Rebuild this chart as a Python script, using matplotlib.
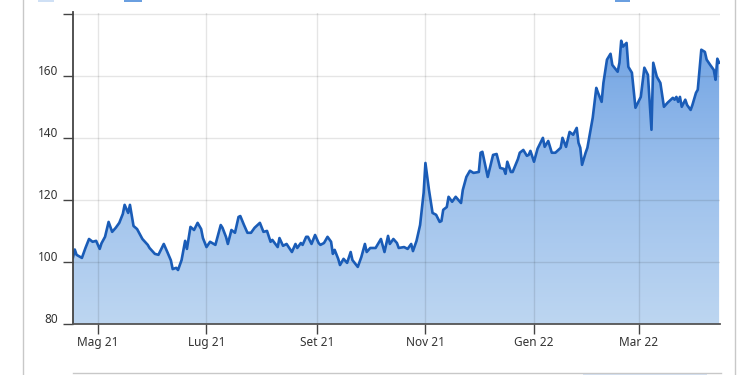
import matplotlib
matplotlib.use('Agg')
import matplotlib.pyplot as plt
import matplotlib.dates as mdates
from matplotlib.transforms import ScaledTranslation
from matplotlib.colors import LinearSegmentedColormap
from matplotlib.patches import Rectangle
from matplotlib.lines import Line2D
import numpy as np
import pandas as pd

# ---------------- data ----------------
dates = [
    '2021-04-17', '2021-04-18', '2021-04-19', '2021-04-22', '2021-04-24', '2021-04-26', '2021-04-28', '2021-04-30',
    '2021-05-02', '2021-05-03', '2021-05-05', '2021-05-07', '2021-05-09', '2021-05-11', '2021-05-13', '2021-05-15',
    '2021-05-16', '2021-05-18', '2021-05-19', '2021-05-21', '2021-05-23', '2021-05-26', '2021-05-29', '2021-05-30',
    '2021-06-02', '2021-06-04', '2021-06-07', '2021-06-09', '2021-06-11', '2021-06-12', '2021-06-14', '2021-06-15',
    '2021-06-17', '2021-06-19', '2021-06-20', '2021-06-22', '2021-06-24', '2021-06-26', '2021-06-28', '2021-06-29',
    '2021-07-01', '2021-07-03', '2021-07-06', '2021-07-09', '2021-07-10', '2021-07-12', '2021-07-13', '2021-07-15',
    '2021-07-17', '2021-07-19', '2021-07-20', '2021-07-22', '2021-07-24', '2021-07-26', '2021-07-28', '2021-07-31',
    '2021-08-02', '2021-08-04', '2021-08-06', '2021-08-07', '2021-08-10', '2021-08-11', '2021-08-13', '2021-08-15',
    '2021-08-18', '2021-08-20', '2021-08-21', '2021-08-23', '2021-08-24', '2021-08-26', '2021-08-27', '2021-08-29',
    '2021-08-31', '2021-09-02', '2021-09-03', '2021-09-05', '2021-09-07', '2021-09-09', '2021-09-10', '2021-09-11',
    '2021-09-13', '2021-09-14', '2021-09-16', '2021-09-18', '2021-09-20', '2021-09-21', '2021-09-24', '2021-09-26',
    '2021-09-28', '2021-09-29', '2021-10-01', '2021-10-04', '2021-10-07', '2021-10-09', '2021-10-11', '2021-10-12',
    '2021-10-14', '2021-10-16', '2021-10-17', '2021-10-20', '2021-10-22', '2021-10-24', '2021-10-25', '2021-10-27',
    '2021-10-29', '2021-10-31', '2021-11-01', '2021-11-03', '2021-11-05', '2021-11-07', '2021-11-09', '2021-11-10',
    '2021-11-11', '2021-11-13', '2021-11-14', '2021-11-16', '2021-11-18', '2021-11-21', '2021-11-22', '2021-11-24',
    '2021-11-26', '2021-11-28', '2021-12-01', '2021-12-02', '2021-12-03', '2021-12-06', '2021-12-09', '2021-12-11',
    '2021-12-13', '2021-12-15', '2021-12-16', '2021-12-17', '2021-12-19', '2021-12-20', '2021-12-23', '2021-12-24',
    '2021-12-26', '2021-12-28', '2021-12-29', '2021-12-30', '2022-01-01', '2022-01-03', '2022-01-06', '2022-01-07',
    '2022-01-09', '2022-01-11', '2022-01-13', '2022-01-16', '2022-01-17', '2022-01-19', '2022-01-21', '2022-01-23',
    '2022-01-25', '2022-01-26', '2022-01-27', '2022-01-28', '2022-01-30', '2022-01-31', '2022-02-03', '2022-02-05',
    '2022-02-06', '2022-02-08', '2022-02-09', '2022-02-11', '2022-02-13', '2022-02-14', '2022-02-17', '2022-02-18',
    '2022-02-19', '2022-02-20', '2022-02-22', '2022-02-23', '2022-02-25', '2022-02-27', '2022-03-02', '2022-03-04',
    '2022-03-06', '2022-03-08', '2022-03-09', '2022-03-11', '2022-03-13', '2022-03-15', '2022-03-17', '2022-03-20',
    '2022-03-21', '2022-03-22', '2022-03-23', '2022-03-24', '2022-03-25', '2022-03-27', '2022-03-28', '2022-03-30',
    '2022-03-31', '2022-04-02', '2022-04-03', '2022-04-05', '2022-04-07', '2022-04-08', '2022-04-10', '2022-04-12',
    '2022-04-13', '2022-04-14', '2022-04-15',
]
values = [
    101.5, 104.0, 102.3, 101.3, 104.5, 107.4, 106.5, 106.8,
    104.2, 106.0, 108.1, 112.9, 109.7, 111.0, 112.6, 115.5,
    118.4, 115.8, 118.4, 111.6, 110.6, 107.4, 105.5, 104.5,
    102.6, 102.3, 105.8, 103.2, 100.5, 97.7, 98.1, 97.4,
    100.6, 106.8, 104.2, 111.3, 110.3, 112.6, 110.6, 107.7,
    104.8, 106.5, 105.5, 111.9, 111.0, 108.0, 105.8, 110.3,
    109.4, 114.5, 114.8, 112.0, 109.4, 109.4, 111.0, 112.6,
    109.7, 110.0, 106.5, 107.1, 104.8, 107.7, 105.2, 105.8,
    103.2, 105.8, 104.5, 106.1, 105.5, 108.1, 108.1, 105.8,
    108.7, 106.1, 105.5, 106.1, 108.1, 106.5, 102.6, 103.9,
    101.0, 99.0, 101.0, 99.7, 103.2, 100.6, 98.4, 101.6,
    105.8, 103.2, 104.5, 104.5, 107.4, 103.2, 108.4, 105.8,
    107.4, 106.1, 104.5, 104.8, 104.2, 105.8, 103.5, 106.8,
    111.9, 122.3, 131.9, 123.2, 115.8, 115.2, 112.9, 113.2,
    116.8, 117.7, 121.0, 119.4, 121.0, 119.0, 123.2, 127.4,
    129.4, 128.7, 129.0, 135.2, 135.5, 127.4, 134.5, 134.8,
    130.3, 130.0, 128.4, 132.3, 129.0, 129.0, 133.2, 135.2,
    136.1, 134.2, 134.5, 135.8, 132.3, 136.5, 140.0, 137.1,
    139.0, 135.2, 135.2, 136.8, 140.0, 137.1, 141.9, 141.0,
    143.2, 138.4, 136.8, 131.3, 135.2, 136.8, 146.5, 156.1,
    154.5, 151.6, 157.7, 165.2, 167.1, 163.5, 161.3, 164.2,
    171.3, 169.4, 170.6, 162.9, 161.0, 149.7, 153.2, 162.6,
    160.3, 142.6, 164.2, 159.7, 157.7, 150.0, 151.3, 152.9,
    152.3, 153.2, 151.6, 153.2, 150.0, 152.3, 150.6, 149.0,
    150.6, 154.5, 155.5, 168.4, 167.7, 165.2, 163.5, 161.9,
    158.7, 165.5, 164.2,
]
y_ticks = [80, 100, 120, 140, 160, 180]
y_tick_labels = ['80', '100', '120', '140', '160', '']
x_tick_dates = ['2021-05-01', '2021-07-01', '2021-09-01', '2021-11-01', '2022-01-01', '2022-03-01']
x_tick_labels = ['Mag 21', 'Lug 21', 'Set 21', 'Nov 21', 'Gen 22', 'Mar 22']
x_range = ['2021-04-17T00:00', '2022-04-15T12:00']
y_range = [80, 180.4]

# ---------------- figure ----------------
plt.rcParams['font.family'] = ['Noto Sans', 'DejaVu Sans']
W, H = 750, 375
fig = plt.figure(figsize=(W / 100, H / 100), dpi=100)
ax = fig.add_axes([73 / W, 1 - 324 / H, (720 - 73) / W, (324 - 12.5) / H])

xd = mdates.date2num(pd.to_datetime(dates))
yv = np.array(values)
x0, x1 = mdates.date2num(pd.to_datetime(x_range, format='ISO8601'))

# gradient area fill
cmap = LinearSegmentedColormap.from_list('g', ['#bdd6f1', '#9cc0ec', '#6fa2e3'])
poly = ax.fill_between(xd, yv, y_range[0], facecolor='none', edgecolor='none', zorder=1)
grad = np.linspace(0, 1, 256).reshape(-1, 1)
im = ax.imshow(grad, extent=[x0, x1, y_range[0], 175], origin='lower', aspect='auto',
               cmap=cmap, zorder=1, interpolation='bicubic')
im.set_clip_path(poly.get_paths()[0], transform=ax.transData)

ax.plot(xd, yv, color='#1a5cb7', lw=1.9, zorder=3, solid_joinstyle='round')

ax.set_xlim(x0, x1)
ax.set_ylim(*y_range)

# ticks & grid
ax.set_yticks(y_ticks)
ax.set_yticklabels(y_tick_labels)
ax.set_xticks(mdates.date2num(pd.to_datetime(x_tick_dates)))
ax.set_xticklabels(x_tick_labels)

ax.tick_params(axis='y', direction='out', length=7.2, width=1.0, color='#444444',
               labelsize=8.5, labelcolor='#333333', pad=3.6)
ax.tick_params(axis='x', direction='out', length=7.2, width=1.0, color='#444444',
               labelsize=8.5, labelcolor='#333333', pad=1.5)
ax.grid(True, lw=1.0)
ax.tick_params(axis='both', which='major', grid_color='#000000', grid_alpha=0.1,
               grid_linewidth=1.0)
ax.set_axisbelow(False)
for gl in ax.get_xgridlines() + ax.get_ygridlines():
    gl.set_zorder(2)

off = ScaledTranslation(0, 6 / 100, fig.dpi_scale_trans)
for lab in ax.get_yticklabels():
    lab.set_transform(lab.get_transform() + off)

for s in ['top', 'right']:
    ax.spines[s].set_visible(False)
ax.spines['left'].set_color('#444444')
ax.spines['left'].set_linewidth(1.3)
ax.spines['bottom'].set_color('#555555')
ax.spines['bottom'].set_linewidth(1.3)
ax.spines['left'].set_zorder(4)
ax.spines['bottom'].set_zorder(4)

# surrounding frame decorations
def px(x, y):
    return x / W, 1 - y / H

for xx in (22.5, 735):
    fig.add_artist(Line2D([xx / W, xx / W], [0, 1], color='#c8c8c8', lw=1.0))
# navigator strip at the bottom (cut off)
fig.add_artist(Line2D([73 / W, 721 / W], [1 - 373 / H, 1 - 373 / H], color='#c8c8c8', lw=1.0))
fig.add_artist(Rectangle(px(583, 375), 124 / W, 2 / H, facecolor='#d5e3f5', edgecolor='none'))
# legend swatches cut off at the top
for (xa, xb, c) in [(38, 54, '#cfe0f5'), (124, 142, '#6a9fe0'), (615, 630, '#6a9fe0')]:
    fig.add_artist(Rectangle(px(xa, 2), (xb - xa) / W, 2 / H, facecolor=c, edgecolor='none'))

fig.savefig('out.png', dpi=100)
